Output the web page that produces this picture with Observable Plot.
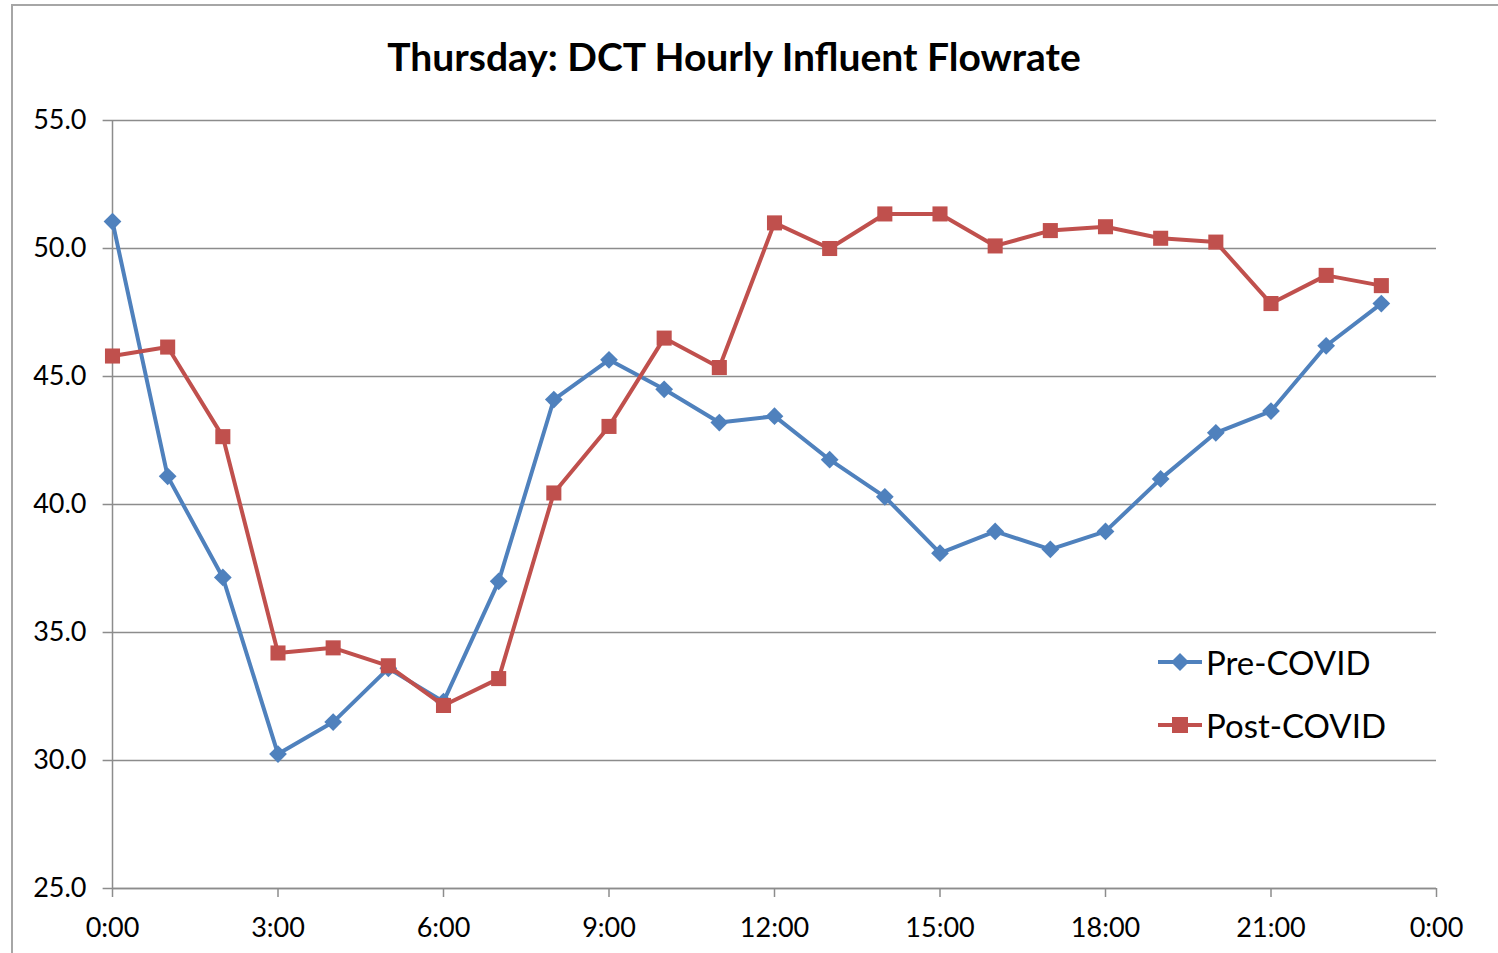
<!DOCTYPE html>
<html>
<head>
<meta charset="utf-8">
<script src="https://cdn.jsdelivr.net/npm/d3@7"></script>
<script src="https://cdn.jsdelivr.net/npm/@observablehq/plot@0.6"></script>
<style>
  html, body { margin: 0; padding: 0; background: #fff; }
  #wrap { position: relative; width: 1498px; height: 953px; overflow: hidden; font-family: Lato, "Noto Sans", sans-serif; }
  #frame { position: absolute; left: 11px; top: 4px; width: 1600px; height: 1200px; border: 2px solid #a6a6a6; box-sizing: border-box; }
  #title { position: absolute; left: 0; width: 1468px; top: 33px; text-align: center; font-weight: bold; font-size: 39px; color: #000; }
  #legend { position: absolute; left: 1158px; top: 641px; font-size: 33px; color: #000; }
  .leg { display: flex; align-items: center; height: 42px; margin-bottom: 21px; }
  .leg svg { margin-right: 4px; }
  #chart { position: absolute; left: 0; top: 0; }
</style>
</head>
<body>
<div id="wrap">
  <div id="frame"></div>
  <div id="chart"></div>
  <div id="title"></div>
  <div id="legend"></div>
</div>
<script>
const title = "Thursday: DCT Hourly Influent Flowrate";
const hours = [0,1,2,3,4,5,6,7,8,9,10,11,12,13,14,15,16,17,18,19,20,21,22,23];
const preCovid = [51.05,41.1,37.15,30.25,31.5,33.6,32.3,37.0,44.1,45.65,44.5,43.2,43.45,41.75,40.3,38.1,38.95,38.25,38.95,41.0,42.8,43.65,46.2,47.85];
const postCovid = [45.8,46.15,42.65,34.2,34.4,33.7,32.15,33.2,40.45,43.05,46.5,45.35,51.0,50.0,51.35,51.35,50.1,50.7,50.85,50.4,50.25,47.85,48.95,48.55];
const seriesNames = ["Pre-COVID", "Post-COVID"];
const seriesColors = ["#4F81BD", "#C0504D"];
const xTicks = [0,3,6,9,12,15,18,21,24];
const yTicks = [25,30,35,40,45,50,55];

const pre = hours.map((h,i) => ({hour: h, value: preCovid[i]}));
const post = hours.map((h,i) => ({hour: h, value: postCovid[i]}));

const plot = Plot.plot({
  width: 1498,
  height: 953,
  marginLeft: 112,
  marginRight: 62,
  marginTop: 120,
  marginBottom: 65,
  style: { fontFamily: "Lato, 'Noto Sans', sans-serif", fontSize: "27px", color: "#000", background: "transparent" },
  x: { domain: [0, 24] },
  y: { domain: [25, 55] },
  marks: [
    Plot.ruleY(yTicks, { stroke: "#8c8c8c", strokeWidth: 1.5, x1: -0.17, x2: 24 }),
    Plot.ruleX([0], { stroke: "#8c8c8c", strokeWidth: 1.5 }),
    Plot.axisX({ ticks: xTicks, tickFormat: d => `${d % 24}:00`, tickSize: 9, tickPadding: 20, stroke: "#8c8c8c", strokeWidth: 1.5, fill: "#000", label: null, fontSize: 27 }),
    Plot.axisY({ ticks: yTicks, tickFormat: d => d.toFixed(1), tickSize: 0, tickPadding: 26, fill: "#000", label: null, fontSize: 27 }),
    Plot.ruleY([25], { stroke: "#8c8c8c", strokeWidth: 1.5 }),
    Plot.line(pre, { x: "hour", y: "value", stroke: seriesColors[0], strokeWidth: 4 }),
    Plot.dot(pre, { x: "hour", y: "value", symbol: "diamond2", r: 8, fill: seriesColors[0] }),
    Plot.line(post, { x: "hour", y: "value", stroke: seriesColors[1], strokeWidth: 4 }),
    Plot.dot(post, { x: "hour", y: "value", symbol: "square", r: 8.5, fill: seriesColors[1] })
  ]
});
document.getElementById("chart").appendChild(plot);
document.getElementById("title").textContent = title;

const legend = document.getElementById("legend");
seriesNames.forEach((name, i) => {
  const row = document.createElement("div");
  row.className = "leg";
  const marker = i === 0
    ? `<polygon points="22,10 31,19 22,28 13,19" fill="${seriesColors[i]}"/>`
    : `<rect x="14" y="11" width="16" height="16" fill="${seriesColors[i]}"/>`;
  row.innerHTML = `<svg width="44" height="38"><line x1="0" y1="19" x2="44" y2="19" stroke="${seriesColors[i]}" stroke-width="4"/>${marker}</svg><span>${name}</span>`;
  legend.appendChild(row);
});
</script>
</body>
</html>
